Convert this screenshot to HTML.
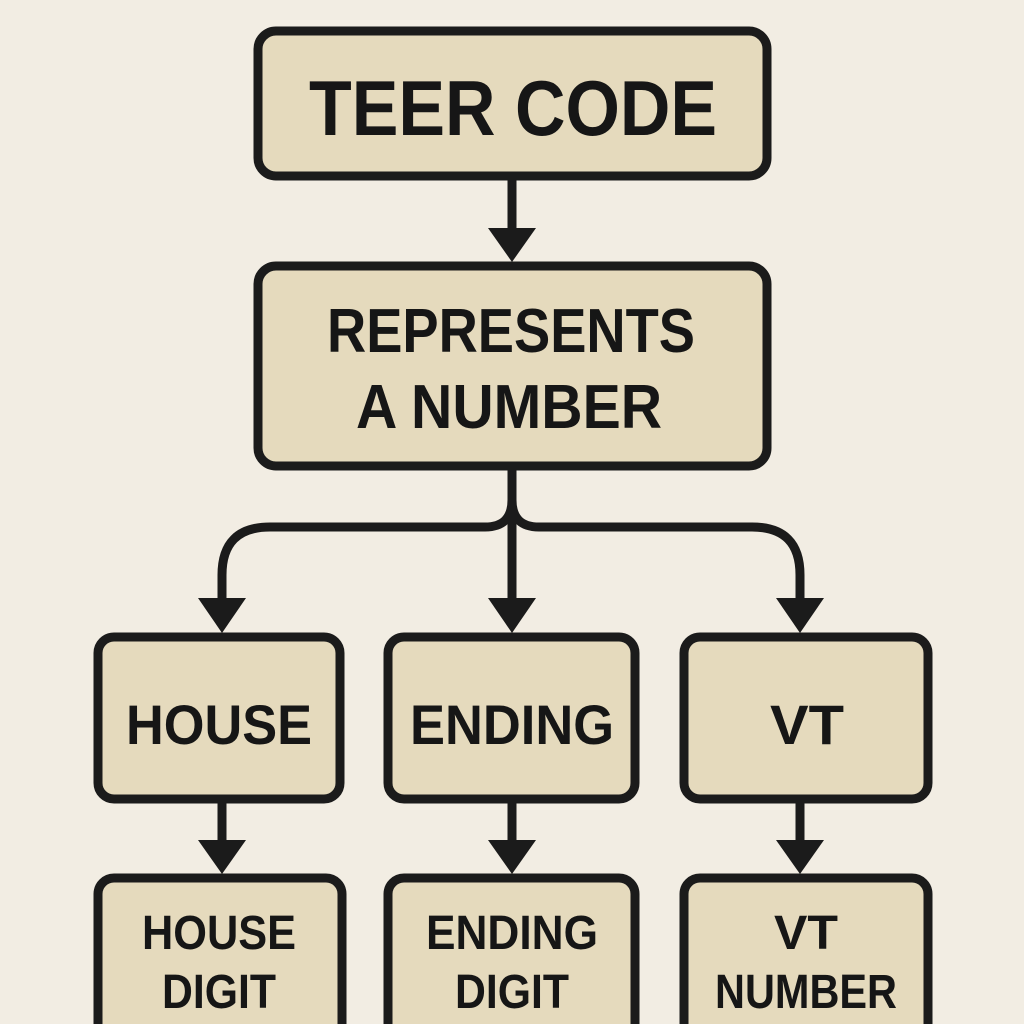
<!DOCTYPE html>
<html><head><style>html,body{margin:0;padding:0;background:#f2ede3;}svg{display:block}</style></head>
<body>
<svg width="1024" height="1024" viewBox="0 0 1024 1024" xmlns="http://www.w3.org/2000/svg">
<rect width="1024" height="1024" fill="#f2ede3"/>
<g fill="#e5dabd" stroke="#1b1b1b" stroke-width="9">
<rect x="258" y="31" width="509" height="145" rx="18"/>
<rect x="258" y="266" width="509" height="200" rx="18"/>
<rect x="98" y="637" width="242" height="162" rx="16"/>
<rect x="388" y="637" width="247" height="162" rx="16"/>
<rect x="684" y="637" width="244" height="162" rx="16"/>
<rect x="98" y="878" width="244" height="170" rx="16"/>
<rect x="388" y="878" width="247" height="170" rx="16"/>
<rect x="684" y="878" width="244" height="170" rx="16"/>
</g>
<g stroke="#1b1b1b" stroke-width="9" fill="none">
<line x1="512" y1="178" x2="512" y2="235"/>
<path d="M512 468 V500 Q512 527 485 527 H270 Q222 527 222 575 V600"/>
<path d="M512 500 Q512 527 539 527 H752 Q800 527 800 575 V600"/>
<line x1="512" y1="500" x2="512" y2="605"/>
<line x1="222" y1="800" x2="222" y2="845"/>
<line x1="512" y1="800" x2="512" y2="845"/>
<line x1="800" y1="800" x2="800" y2="845"/>
</g>
<g fill="#1b1b1b">
<polygon points="488,228 536,228 512,262"/>
<polygon points="198,598 246,598 222,633"/>
<polygon points="488,598 536,598 512,633"/>
<polygon points="776,598 824,598 800,633"/>
<polygon points="198,840 246,840 222,874"/>
<polygon points="488,840 536,840 512,874"/>
<polygon points="776,840 824,840 800,874"/>
</g>
<g font-family="'Liberation Sans Narrow','Liberation Sans',sans-serif" font-weight="bold" fill="#161616" text-anchor="middle">
<text x="513" y="135" font-size="78" textLength="408" lengthAdjust="spacingAndGlyphs">TEER CODE</text>
<text x="511" y="352" font-size="62" textLength="368" lengthAdjust="spacingAndGlyphs">REPRESENTS</text>
<text x="509" y="428" font-size="62" textLength="306" lengthAdjust="spacingAndGlyphs">A NUMBER</text>
<text x="219" y="744" font-size="56" textLength="186" lengthAdjust="spacingAndGlyphs">HOUSE</text>
<text x="512" y="744" font-size="56" textLength="204" lengthAdjust="spacingAndGlyphs">ENDING</text>
<text x="807" y="744" font-size="56" textLength="74" lengthAdjust="spacingAndGlyphs">VT</text>
<text x="219" y="949" font-size="48" textLength="154" lengthAdjust="spacingAndGlyphs">HOUSE</text>
<text x="219" y="1008" font-size="48" textLength="114" lengthAdjust="spacingAndGlyphs">DIGIT</text>
<text x="512" y="949" font-size="48" textLength="172" lengthAdjust="spacingAndGlyphs">ENDING</text>
<text x="512" y="1008" font-size="48" textLength="114" lengthAdjust="spacingAndGlyphs">DIGIT</text>
<text x="806" y="949" font-size="48" textLength="64" lengthAdjust="spacingAndGlyphs">VT</text>
<text x="806" y="1008" font-size="48" textLength="182" lengthAdjust="spacingAndGlyphs">NUMBER</text>
</g>
</svg>
</body></html>
